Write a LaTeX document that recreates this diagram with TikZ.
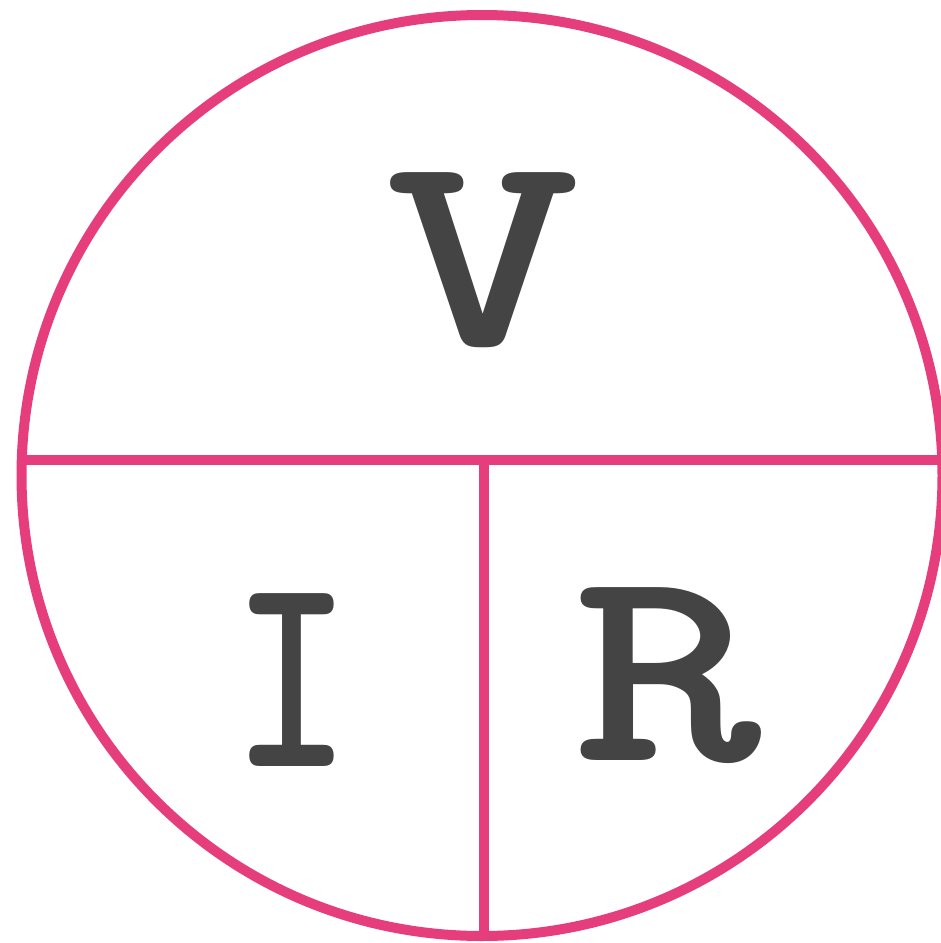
\documentclass[tikz,border=0pt]{standalone}
\definecolor{ringpink}{RGB}{230,62,125}
\definecolor{lettergray}{RGB}{68,68,68}
\begin{document}
\begin{tikzpicture}[x=1pt,y=-1pt,
  ring/.style={draw=ringpink,line width=10pt},
  letter/.style={inner sep=0pt,anchor=base,text=lettergray,font=\fontsize{283}{283}\fontseries{b}\ttfamily\selectfont}]
\useasboundingbox (0,0) rectangle (941,943);
\node[circle,ring,minimum size=921pt,inner sep=0pt] (c) at (482,475.5) {};
\coordinate (hL) at (22,460);
\coordinate (hR) at (945,460);
\coordinate (vT) at (484,460);
\coordinate (vB) at (484,936);
\draw[ringpink,line width=10pt] (hL) -- (hR);
\draw[ringpink,line width=10pt] (vT) -- (vB);
\node[letter] (V) at (483,345) {\scalebox{1.33}[1]{V}};
\node[letter] (I) at (292,766) {\scalebox{0.8}[1]{I}};
\node[letter] (R) at (668,760) {\scalebox{1.27}[1]{R}};
\end{tikzpicture}
\end{document}
